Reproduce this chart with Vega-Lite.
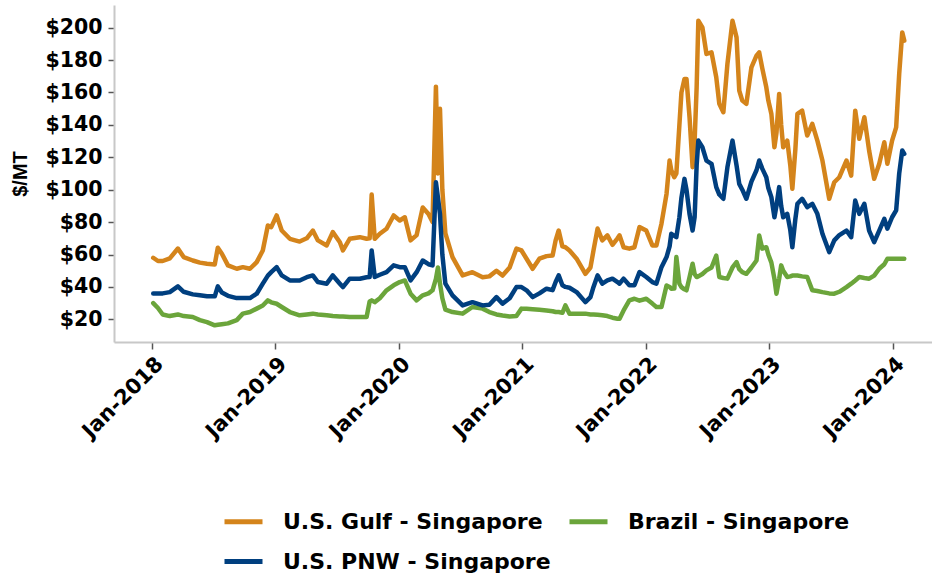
{
  "$schema": "https://vega.github.io/schema/vega-lite/v6.json",
  "width": 818,
  "height": 337,
  "autosize": {"type": "none"},
  "padding": {"left": 114, "top": 5, "right": 0, "bottom": 242},
  "background": "white",
  "config": {"view": {"stroke": null}, "font": "DejaVu Sans"},
  "data": {"values": [
    {"d":"2018-01-05","gulf":58,"pnw":36,"brazil":30},
    {"d":"2018-01-19","gulf":56,"pnw":36,"brazil":27},
    {"d":"2018-02-02","gulf":56,"pnw":36,"brazil":23},
    {"d":"2018-02-23","gulf":57.6,"pnw":36.8,"brazil":22},
    {"d":"2018-03-19","gulf":63.7,"pnw":40.3,"brazil":23},
    {"d":"2018-04-05","gulf":58.4,"pnw":37,"brazil":22},
    {"d":"2018-05-02","gulf":56.3,"pnw":35.4,"brazil":21.4},
    {"d":"2018-05-23","gulf":55,"pnw":34.8,"brazil":19.5},
    {"d":"2018-06-13","gulf":54.3,"pnw":34.2,"brazil":18.3},
    {"d":"2018-07-06","gulf":53.9,"pnw":34.2,"brazil":16.3},
    {"d":"2018-07-15","gulf":64.2,"pnw":40.3,"brazil":16.6},
    {"d":"2018-07-27","gulf":60.5,"pnw":36.5,"brazil":17},
    {"d":"2018-08-14","gulf":53.3,"pnw":34.5,"brazil":17.5},
    {"d":"2018-09-09","gulf":51.2,"pnw":33.1,"brazil":19.5},
    {"d":"2018-09-27","gulf":52.2,"pnw":33.1,"brazil":23.5},
    {"d":"2018-10-18","gulf":51.2,"pnw":33.1,"brazil":24.5},
    {"d":"2018-11-07","gulf":55.3,"pnw":35.8,"brazil":26.6},
    {"d":"2018-11-25","gulf":62.5,"pnw":42,"brazil":28.5},
    {"d":"2018-12-10","gulf":77.9,"pnw":47,"brazil":31.7},
    {"d":"2018-12-20","gulf":76.9,"pnw":49.1,"brazil":30.5},
    {"d":"2019-01-05","gulf":84.1,"pnw":52.2,"brazil":29.6},
    {"d":"2019-01-20","gulf":74.8,"pnw":47.1,"brazil":27.6},
    {"d":"2019-02-13","gulf":69.7,"pnw":44,"brazil":24.5},
    {"d":"2019-03-14","gulf":68,"pnw":44,"brazil":22.5},
    {"d":"2019-04-04","gulf":70,"pnw":46,"brazil":23},
    {"d":"2019-04-22","gulf":74.8,"pnw":47.1,"brazil":23.5},
    {"d":"2019-05-07","gulf":68.7,"pnw":43,"brazil":23},
    {"d":"2019-06-02","gulf":65.6,"pnw":42,"brazil":22.5},
    {"d":"2019-06-20","gulf":73.8,"pnw":47.1,"brazil":22},
    {"d":"2019-07-11","gulf":67.6,"pnw":42,"brazil":21.8},
    {"d":"2019-07-20","gulf":62.5,"pnw":39.9,"brazil":21.8},
    {"d":"2019-08-09","gulf":69.7,"pnw":45.1,"brazil":21.5},
    {"d":"2019-09-08","gulf":70.7,"pnw":45,"brazil":21.4},
    {"d":"2019-09-28","gulf":69.7,"pnw":46,"brazil":21.4},
    {"d":"2019-10-07","gulf":70,"pnw":46.1,"brazil":31},
    {"d":"2019-10-13","gulf":97,"pnw":62.5,"brazil":31.7},
    {"d":"2019-10-22","gulf":69.7,"pnw":46.1,"brazil":30.6},
    {"d":"2019-11-06","gulf":72.8,"pnw":47.5,"brazil":33},
    {"d":"2019-11-26","gulf":75.9,"pnw":49.1,"brazil":37.9},
    {"d":"2019-12-17","gulf":84.1,"pnw":53.3,"brazil":41},
    {"d":"2020-01-04","gulf":81,"pnw":52.2,"brazil":43},
    {"d":"2020-01-19","gulf":83,"pnw":52.2,"brazil":44},
    {"d":"2020-02-05","gulf":68.7,"pnw":44,"brazil":35.8},
    {"d":"2020-02-23","gulf":72,"pnw":49.1,"brazil":31.7},
    {"d":"2020-03-12","gulf":89,"pnw":56.3,"brazil":34.8},
    {"d":"2020-03-29","gulf":85,"pnw":54,"brazil":36},
    {"d":"2020-04-10","gulf":80,"pnw":53.3,"brazil":37.9},
    {"d":"2020-04-20","gulf":163.6,"pnw":104.6,"brazil":45},
    {"d":"2020-04-26","gulf":110,"pnw":95,"brazil":52},
    {"d":"2020-05-02","gulf":150,"pnw":85,"brazil":42},
    {"d":"2020-05-09","gulf":100,"pnw":60,"brazil":33},
    {"d":"2020-05-18","gulf":73,"pnw":42,"brazil":26},
    {"d":"2020-06-08","gulf":58.4,"pnw":34.8,"brazil":24.5},
    {"d":"2020-07-08","gulf":47.1,"pnw":28.6,"brazil":23.5},
    {"d":"2020-08-06","gulf":49.1,"pnw":30.6,"brazil":27.6},
    {"d":"2020-09-05","gulf":46,"pnw":28.6,"brazil":26.6},
    {"d":"2020-09-25","gulf":46.5,"pnw":29,"brazil":24.5},
    {"d":"2020-10-16","gulf":50,"pnw":33.7,"brazil":23},
    {"d":"2020-11-03","gulf":47,"pnw":29.7,"brazil":22.4},
    {"d":"2020-11-24","gulf":52,"pnw":33,"brazil":21.8},
    {"d":"2020-12-14","gulf":63.6,"pnw":39.9,"brazil":22},
    {"d":"2020-12-29","gulf":62.5,"pnw":39.9,"brazil":26.6},
    {"d":"2021-01-13","gulf":57.4,"pnw":37.9,"brazil":26.5},
    {"d":"2021-01-31","gulf":51.2,"pnw":33.7,"brazil":26.2},
    {"d":"2021-02-20","gulf":57.4,"pnw":36,"brazil":25.9},
    {"d":"2021-03-13","gulf":59,"pnw":38.9,"brazil":25.5},
    {"d":"2021-03-31","gulf":59.4,"pnw":38,"brazil":25},
    {"d":"2021-04-09","gulf":68.7,"pnw":43,"brazil":24.5},
    {"d":"2021-04-18","gulf":74.8,"pnw":47.1,"brazil":24.5},
    {"d":"2021-04-29","gulf":65,"pnw":41,"brazil":24},
    {"d":"2021-05-08","gulf":64.5,"pnw":40,"brazil":28.6},
    {"d":"2021-05-20","gulf":62.5,"pnw":39.5,"brazil":23.5},
    {"d":"2021-06-10","gulf":57.4,"pnw":36.8,"brazil":23.5},
    {"d":"2021-07-06","gulf":48.1,"pnw":30.6,"brazil":23.5},
    {"d":"2021-07-21","gulf":52,"pnw":33.7,"brazil":23},
    {"d":"2021-07-30","gulf":62.5,"pnw":40,"brazil":23},
    {"d":"2021-08-11","gulf":76,"pnw":47.1,"brazil":22.8},
    {"d":"2021-08-25","gulf":68.7,"pnw":42,"brazil":22.5},
    {"d":"2021-09-09","gulf":71.8,"pnw":44,"brazil":22},
    {"d":"2021-09-24","gulf":66,"pnw":45.1,"brazil":21},
    {"d":"2021-10-09","gulf":70,"pnw":43,"brazil":20.4},
    {"d":"2021-10-15","gulf":71.8,"pnw":42,"brazil":20.4},
    {"d":"2021-10-27","gulf":64.5,"pnw":45.1,"brazil":25.5},
    {"d":"2021-11-13","gulf":63.6,"pnw":41,"brazil":31.7},
    {"d":"2021-11-28","gulf":64.5,"pnw":41,"brazil":32.7},
    {"d":"2021-12-13","gulf":76.9,"pnw":49.1,"brazil":31.5},
    {"d":"2022-01-02","gulf":74.8,"pnw":46.1,"brazil":32.7},
    {"d":"2022-01-20","gulf":65.6,"pnw":43,"brazil":29.7},
    {"d":"2022-02-01","gulf":65.6,"pnw":42,"brazil":27.6},
    {"d":"2022-02-16","gulf":79,"pnw":52.2,"brazil":27.6},
    {"d":"2022-03-03","gulf":97.5,"pnw":58.4,"brazil":40.9},
    {"d":"2022-03-12","gulf":118,"pnw":65,"brazil":40},
    {"d":"2022-03-17","gulf":112,"pnw":72.8,"brazil":38.9},
    {"d":"2022-03-26","gulf":107.7,"pnw":71.5,"brazil":39},
    {"d":"2022-04-01","gulf":110,"pnw":70.7,"brazil":58.4},
    {"d":"2022-04-10","gulf":140,"pnw":83,"brazil":42},
    {"d":"2022-04-16","gulf":160,"pnw":95,"brazil":39.9},
    {"d":"2022-04-25","gulf":168.4,"pnw":106.7,"brazil":38.5},
    {"d":"2022-05-01","gulf":168.4,"pnw":100,"brazil":37.9},
    {"d":"2022-05-10","gulf":144.7,"pnw":85,"brazil":46},
    {"d":"2022-05-19","gulf":113.9,"pnw":74.8,"brazil":54.3},
    {"d":"2022-05-25","gulf":130,"pnw":83,"brazil":48},
    {"d":"2022-05-31","gulf":163.2,"pnw":115,"brazil":46.1},
    {"d":"2022-06-05","gulf":204.3,"pnw":130.3,"brazil":46.5},
    {"d":"2022-06-17","gulf":200.2,"pnw":126.2,"brazil":48},
    {"d":"2022-06-29","gulf":183.8,"pnw":118,"brazil":50.2},
    {"d":"2022-07-14","gulf":184.8,"pnw":116,"brazil":52},
    {"d":"2022-07-28","gulf":169.4,"pnw":101.6,"brazil":59.4},
    {"d":"2022-08-06","gulf":153,"pnw":97,"brazil":46.1},
    {"d":"2022-08-18","gulf":147.8,"pnw":94.4,"brazil":45.5},
    {"d":"2022-08-30","gulf":177.6,"pnw":113.9,"brazil":45.1},
    {"d":"2022-09-14","gulf":204.3,"pnw":130.3,"brazil":52},
    {"d":"2022-09-26","gulf":194,"pnw":115,"brazil":55.3},
    {"d":"2022-10-04","gulf":161.2,"pnw":103.6,"brazil":51},
    {"d":"2022-10-13","gulf":155,"pnw":100,"brazil":49.1},
    {"d":"2022-10-25","gulf":153,"pnw":94.4,"brazil":48.1},
    {"d":"2022-11-09","gulf":175.5,"pnw":105,"brazil":52},
    {"d":"2022-11-24","gulf":182.7,"pnw":112,"brazil":56.3},
    {"d":"2022-12-02","gulf":184.8,"pnw":118,"brazil":71.8},
    {"d":"2022-12-11","gulf":175,"pnw":113,"brazil":63.6},
    {"d":"2022-12-23","gulf":163.2,"pnw":107.7,"brazil":64.5},
    {"d":"2022-12-29","gulf":155,"pnw":101,"brazil":60},
    {"d":"2023-01-07","gulf":146.8,"pnw":95.4,"brazil":55},
    {"d":"2023-01-16","gulf":126.2,"pnw":83,"brazil":45},
    {"d":"2023-01-22","gulf":135,"pnw":90,"brazil":35.8},
    {"d":"2023-01-30","gulf":159.1,"pnw":101.6,"brazil":45},
    {"d":"2023-02-05","gulf":140,"pnw":90,"brazil":53.3},
    {"d":"2023-02-11","gulf":126.2,"pnw":83,"brazil":50},
    {"d":"2023-02-23","gulf":130.3,"pnw":85.1,"brazil":46.1},
    {"d":"2023-03-04","gulf":115,"pnw":75,"brazil":46.5},
    {"d":"2023-03-10","gulf":100.6,"pnw":64.5,"brazil":47},
    {"d":"2023-03-19","gulf":125,"pnw":82,"brazil":47.1},
    {"d":"2023-03-25","gulf":146.8,"pnw":91.3,"brazil":47},
    {"d":"2023-04-08","gulf":148.8,"pnw":94.4,"brazil":46.5},
    {"d":"2023-04-23","gulf":133.4,"pnw":89.2,"brazil":46.1},
    {"d":"2023-05-08","gulf":140.6,"pnw":91.3,"brazil":37.9},
    {"d":"2023-05-23","gulf":130.3,"pnw":85.1,"brazil":37.5},
    {"d":"2023-06-07","gulf":118,"pnw":72.8,"brazil":36.8},
    {"d":"2023-06-27","gulf":94.4,"pnw":61.5,"brazil":36},
    {"d":"2023-07-12","gulf":104.6,"pnw":68.7,"brazil":35.8},
    {"d":"2023-07-27","gulf":107.7,"pnw":72,"brazil":37},
    {"d":"2023-08-17","gulf":118,"pnw":74.8,"brazil":39.9},
    {"d":"2023-08-31","gulf":108.7,"pnw":70.7,"brazil":42},
    {"d":"2023-09-12","gulf":148.8,"pnw":93.3,"brazil":44},
    {"d":"2023-09-24","gulf":131.4,"pnw":85.1,"brazil":46.1},
    {"d":"2023-10-09","gulf":144.7,"pnw":91.3,"brazil":45.5},
    {"d":"2023-10-23","gulf":124.2,"pnw":74.8,"brazil":45.1},
    {"d":"2023-11-07","gulf":106.7,"pnw":67.6,"brazil":47},
    {"d":"2023-11-22","gulf":116,"pnw":74.8,"brazil":51.2},
    {"d":"2023-12-07","gulf":129.3,"pnw":82,"brazil":54},
    {"d":"2023-12-16","gulf":116,"pnw":76,"brazil":57.4},
    {"d":"2023-12-30","gulf":130.3,"pnw":83,"brazil":57.4},
    {"d":"2024-01-11","gulf":138.5,"pnw":87.2,"brazil":57.4},
    {"d":"2024-01-20","gulf":171.5,"pnw":110,"brazil":57.4},
    {"d":"2024-01-29","gulf":197.1,"pnw":124.2,"brazil":57.4},
    {"d":"2024-02-04","gulf":192,"pnw":122.1,"brazil":57.4}
  ]},
  "transform": [{"fold": ["gulf", "brazil", "pnw"], "as": ["series", "value"]}],
  "mark": {"type": "line", "strokeWidth": 4.5, "strokeJoin": "round", "strokeCap": "round"},
  "encoding": {
    "x": {
      "field": "d", "type": "temporal",
      "scale": {"domain": [{"year": 2017, "month": 9, "date": 11}, {"year": 2024, "month": 4, "date": 26}]},
      "axis": {
        "title": null,
        "values": [
          {"year": 2018, "month": 1, "date": 1}, {"year": 2019, "month": 1, "date": 1},
          {"year": 2020, "month": 1, "date": 1}, {"year": 2021, "month": 1, "date": 1},
          {"year": 2022, "month": 1, "date": 1}, {"year": 2023, "month": 1, "date": 1},
          {"year": 2024, "month": 1, "date": 1}
        ],
        "format": "%b-%Y",
        "labelAngle": -45,
        "labelFont": "DejaVu Sans",
        "labelFontSize": 21,
        "labelFontWeight": "bold",
        "labelColor": "black",
        "labelPadding": 4,
        "labelOverlap": false,
        "domainColor": "#c8c8c8",
        "domainWidth": 2,
        "tickColor": "#555555",
        "tickWidth": 1.5,
        "tickSize": 7,
        "grid": false
      }
    },
    "y": {
      "field": "value", "type": "quantitative",
      "scale": {"domain": [6, 214], "nice": false, "zero": false},
      "axis": {
        "title": "$/MT",
        "values": [20, 40, 60, 80, 100, 120, 140, 160, 180, 200],
        "labelExpr": "'$' + datum.value",
        "labelFont": "DejaVu Sans",
        "labelFontSize": 20.5,
        "labelFontWeight": "bold",
        "labelColor": "black",
        "labelPadding": 6,
        "labelOverlap": false,
        "titleFont": "Liberation Sans",
        "titleFontSize": 20,
        "titleFontWeight": "bold",
        "titleColor": "black",
        "titlePadding": 14,
        "domainColor": "#c8c8c8",
        "domainWidth": 2,
        "tickColor": "#555555",
        "tickWidth": 1.5,
        "tickSize": 6,
        "grid": false
      }
    },
    "color": {
      "field": "series", "type": "nominal",
      "scale": {"domain": ["gulf", "brazil", "pnw"], "range": ["#D4841B", "#6BA53B", "#003F7F"]},
      "legend": {
        "orient": "none",
        "legendX": 108,
        "legendY": 495,
        "direction": "horizontal",
        "columns": 2,
        "title": null,
        "symbolType": "stroke",
        "symbolSize": 1444,
        "symbolStrokeWidth": 5,
        "labelFont": "DejaVu Sans",
        "labelFontSize": 22,
        "labelFontWeight": "bold",
        "labelColor": "black",
        "labelOffset": 18,
        "labelLimit": 400,
        "columnPadding": 8,
        "rowPadding": 7,
        "labelExpr": "datum.label == 'gulf' ? 'U.S. Gulf - Singapore' : datum.label == 'brazil' ? 'Brazil - Singapore' : 'U.S. PNW - Singapore'"
      }
    }
  }
}
